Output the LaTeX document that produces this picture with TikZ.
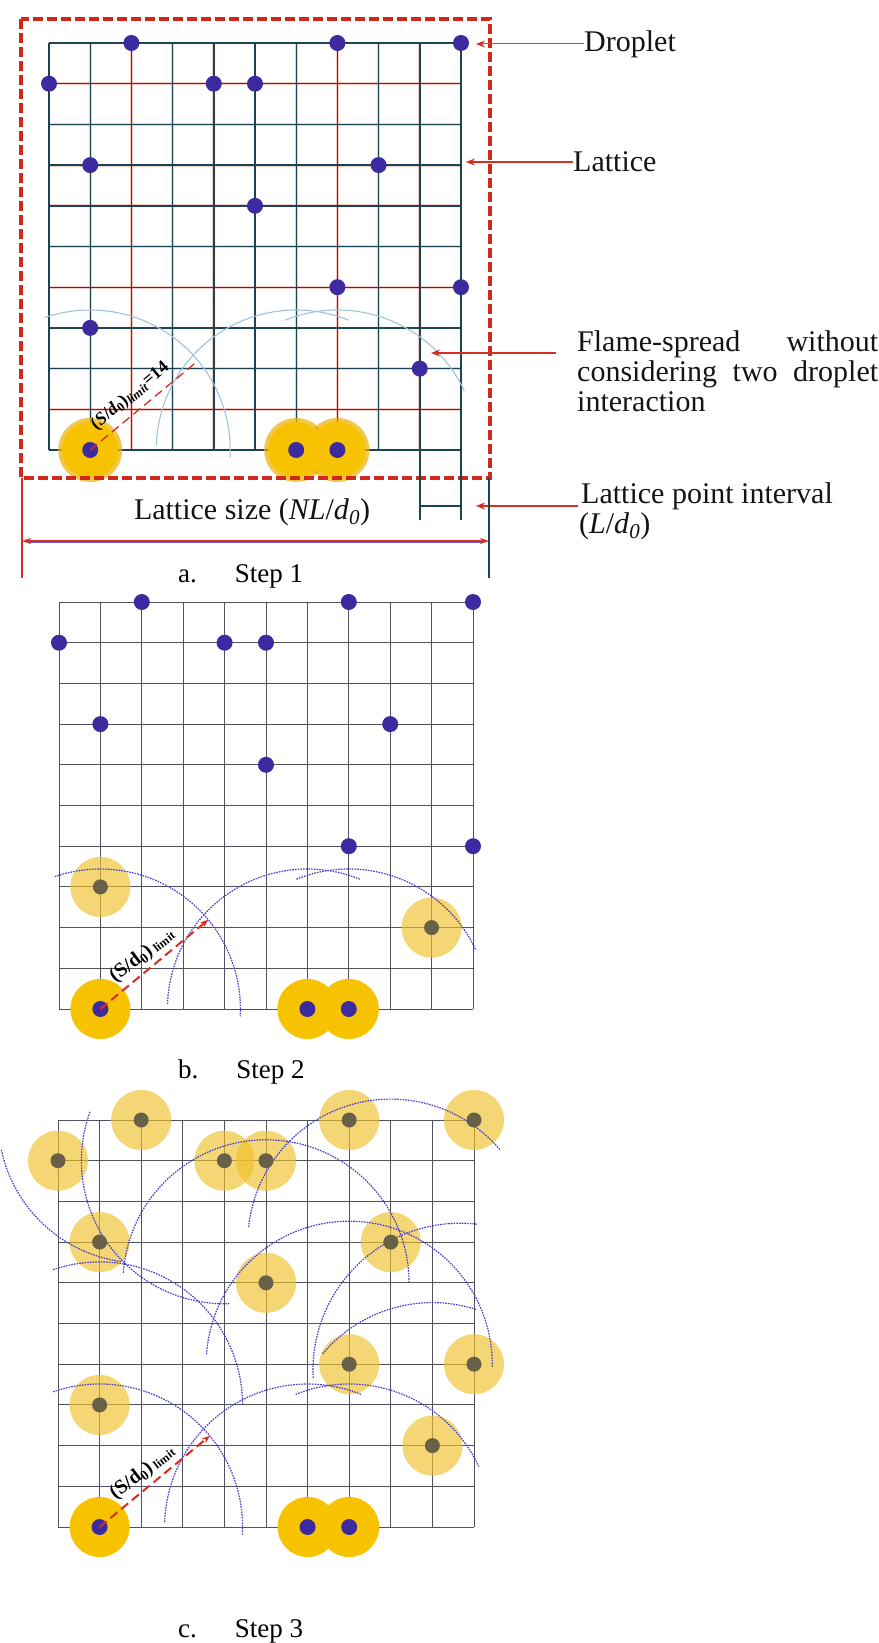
\documentclass[tikz,border=0pt]{standalone}
\usepackage{fontspec}
\setmainfont{Liberation Serif}
\usetikzlibrary{calc,arrows.meta}
\definecolor{bluedot}{RGB}{60,42,160}
\definecolor{graydot}{RGB}{105,96,72}
\definecolor{stronggold}{RGB}{247,194,0}
\definecolor{edgegold}{RGB}{236,176,0}
\definecolor{lightgold}{RGB}{239,193,42}
\definecolor{arcblue}{RGB}{70,62,205}
\definecolor{gridgray}{RGB}{78,82,92}
\definecolor{gridteal}{RGB}{28,68,84}
\definecolor{fringered}{RGB}{230,90,70}
\definecolor{dashred}{RGB}{210,40,28}
\definecolor{arrowred}{RGB}{215,45,35}
\definecolor{paleblue}{RGB}{160,195,222}
\definecolor{dimblue}{RGB}{110,90,200}
\def\droplist{2/0,7/0,10/0,0/1,4/1,5/1,1/3,8/3,5/4,7/6,10/6,1/7,9/8,1/10,6/10,7/10}
\begin{document}
\begin{tikzpicture}[x=1pt,y=-1pt,
  lab/.style={font=\fontsize{30}{30}\selectfont, inner sep=0pt, text=black!92},
  steplab/.style={font=\fontsize{27}{27}\selectfont, inner sep=0pt, anchor=west},
  gridA/.style={draw=gridteal, line width=1.4pt},
  fringeA/.style={draw=fringered, line width=2.8pt, opacity=0.3},
  gridB/.style={draw=gridgray, line width=0.9pt},
  arcA/.style={draw=paleblue, line width=1.1pt},
  arcB/.style={draw=arcblue, line width=1.2pt, dash pattern=on 1.6pt off 1.1pt},
  bdot/.style={fill=bluedot},
  gdot/.style={fill=graydot},
  shalo/.style={fill=stronggold},
  lhalo/.style={fill=lightgold, fill opacity=0.65},
  redarr/.style={draw=arrowred, line width=2pt, -{Stealth[length=9pt,width=7pt]}},
  limarrow/.style={draw=arrowred, line width=2pt, dash pattern=on 9pt off 5pt, -{Stealth[length=8pt,width=6pt]}},
]
\useasboundingbox (0,0) rectangle (878,1643);
\fill[white] (0,0) rectangle (878,1643);

% ================= panel a =================
\begin{scope}[shift={(49pt,-43pt)},x=41.2pt,y=-40.7pt]
  \foreach \i in {0,...,10}{
    \draw[fringeA] (\i,0) -- (\i,10);
    \draw[fringeA] (0,\i) -- (10,\i);
  }
  \foreach \i in {0,...,10}{
    \draw[gridA] (\i,0) -- (\i,10);
    \draw[gridA] (0,\i) -- (10,\i);
  }
  \foreach \i/\j in \droplist { \coordinate (a-\i-\j) at (\i,\j); }
  \coordinate (a-9-10) at (9,10);
  \coordinate (a-10-10) at (10,10);
\end{scope}
\foreach \i in {1,6,7}{ \fill[edgegold, opacity=0.7] (a-\i-10) circle[radius=32pt]; }
\foreach \i in {1,6,7}{ \fill[shalo] (a-\i-10) circle[radius=28pt]; }
\draw[arcA] ($(a-1-10)+(109:140pt)$) arc[start angle=109,end angle=-3,radius=140pt];
\draw[arcA] ($(a-6-10)+(178:140pt)$) arc[start angle=178,end angle=68,radius=140pt];
\draw[arcA] ($(a-7-10)+(112:140pt)$) arc[start angle=112,end angle=25,radius=140pt];
\foreach \i/\j in \droplist { \fill[bdot] (a-\i-\j) circle[radius=8pt]; }
\coordinate (aTip) at ($(a-1-10)+(39.6:140pt)$);
\draw[draw=arrowred, line width=1.3pt, dash pattern=on 9pt off 5pt] (a-1-10) -- (aTip);
\node[rotate=40, inner sep=0pt, font=\fontsize{18}{18}\selectfont\bfseries] (aLim) at ($(a-1-10)+(40pt,54pt)$)
  {(\textit{S}/\textit{d}\textsubscript{0})\textsubscript{\textit{limit}}=14};
\draw[draw=dashred, line width=3.5pt, dash pattern=on 10pt off 4pt] (21,19) rectangle (490,478);

% lattice interval marks
\coordinate (v9) at ($(a-9-10)+(0,56)$);
\coordinate (v10) at ($(a-10-10)+(0,56)$);
\draw[gridA] (a-9-10) -- ($(a-9-10)+(0,70)$);
\draw[gridA] (a-10-10) -- ($(a-10-10)+(0,70)$);
\draw[draw=gridteal, line width=1.3pt] (v9) -- (v10);

% labels of panel a
\node[lab, anchor=west] (lDrop) at (584,44) {Droplet};
\coordinate (tDrop) at (476,44);
\draw[line width=1pt, draw=dimblue, -{Stealth[length=9pt,width=7pt,color=arrowred]}] (lDrop.west) -- (tDrop);
\node[lab, anchor=west] (lLat) at (573,162) {Lattice};
\coordinate (tLat) at (466,162);
\draw[redarr] (lLat.west) -- (tLat);
\node[lab, anchor=north west, align=left] (lFlame) at (577,330)
  {\makebox[301pt][s]{Flame-spread without}\\\makebox[301pt][s]{considering two droplet}\\interaction};
\coordinate (sFlame) at (556,353);
\coordinate (tFlame) at (431,353);
\draw[redarr] (sFlame) -- (tFlame);
\node[lab, anchor=west] (lLpi) at (581,496) {Lattice point interval};
\node[lab, anchor=west] (lLd) at (579,526) {(\textit{L}/\textit{d}\textsubscript{\textit{0}})};
\coordinate (sLpi) at (578,506);
\coordinate (tLpi) at (476,506);
\draw[redarr] (sLpi) -- (tLpi);

% lattice size dimension
\coordinate (dimL) at (22,541);
\coordinate (dimR) at (489,541);
\draw[draw=dimblue, line width=0.8pt] ($(dimL)+(6,1.8)$) -- ($(dimR)+(-6,1.8)$);
\draw[draw=arrowred, line width=1.2pt, {Stealth[length=9pt,width=6pt]}-{Stealth[length=9pt,width=6pt]}] (dimL) -- (dimR);
\draw[draw=arrowred, line width=1.6pt] (22,478) -- (22,578);
\draw[draw=gridteal, line width=1.4pt] (489,478) -- (489,578);
\node[lab] (lSize) at (252,512) {Lattice size (\textit{NL}/\textit{d}\textsubscript{\textit{0}})};
\node[steplab] (sA) at (178,576) {a.\hspace{38pt}Step 1};

% ================= panel b =================
\begin{scope}[shift={(59pt,-602pt)},x=41.4pt,y=-40.7pt]
  \foreach \i in {0,...,10}{
    \draw[gridB] (\i,0) -- (\i,10);
    \draw[gridB] (0,\i) -- (10,\i);
  }
  \foreach \i/\j in \droplist { \coordinate (b-\i-\j) at (\i,\j); }
\end{scope}
\foreach \i/\j in {1/7,9/8}{ \fill[lhalo] (b-\i-\j) circle[radius=30pt]; }
\foreach \i in {1,6,7}{ \fill[shalo] (b-\i-10) circle[radius=30pt]; }
\draw[arcB] ($(b-1-10)+(109:140pt)$) arc[start angle=109,end angle=-3,radius=140pt];
\draw[arcB] ($(b-6-10)+(178:140pt)$) arc[start angle=178,end angle=68,radius=140pt];
\draw[arcB] ($(b-7-10)+(112:140pt)$) arc[start angle=112,end angle=25,radius=140pt];
\foreach \i/\j in {2/0,7/0,10/0,0/1,4/1,5/1,1/3,8/3,5/4,7/6,10/6,1/10,6/10,7/10}{ \fill[bdot] (b-\i-\j) circle[radius=8pt]; }
\foreach \i/\j in {1/7,9/8}{ \fill[gdot] (b-\i-\j) circle[radius=7.5pt]; }
\coordinate (bTip) at ($(b-1-10)+(39.6:140pt)$);
\draw[limarrow] (b-1-10) -- (bTip);
\node[rotate=37.5, inner sep=0pt, font=\bfseries] (bLim) at ($(b-1-10)+(42pt,53pt)$)
  {\fontsize{20}{20}\selectfont (S/d\textsubscript{0})\,\raisebox{-1pt}{\fontsize{12}{12}\selectfont limit}};
\node[steplab] (sB) at (178,1072) {b.\hspace{38pt}Step 2};

% ================= panel c =================
\begin{scope}[shift={(58pt,-1120pt)},x=41.6pt,y=-40.7pt]
  \foreach \i in {0,...,10}{
    \draw[gridB] (\i,0) -- (\i,10);
    \draw[gridB] (0,\i) -- (10,\i);
  }
  \foreach \i/\j in \droplist { \coordinate (c-\i-\j) at (\i,\j); }
\end{scope}
\foreach \i/\j in {2/0,7/0,10/0,0/1,4/1,5/1,1/3,8/3,5/4,7/6,10/6,1/7,9/8}{ \fill[lhalo] (c-\i-\j) circle[radius=30pt]; }
\foreach \i in {1,6,7}{ \fill[shalo] (c-\i-10) circle[radius=30pt]; }
\draw[arcB] ($(c-1-10)+(109:143pt)$) arc[start angle=109,end angle=-3,radius=143pt];
\draw[arcB] ($(c-6-10)+(178:143pt)$) arc[start angle=178,end angle=68,radius=143pt];
\draw[arcB] ($(c-7-10)+(112:143pt)$) arc[start angle=112,end angle=25,radius=143pt];
\draw[arcB] ($(c-1-7)+(109:143pt)$) arc[start angle=109,end angle=0,radius=143pt];
\draw[arcB] ($(c-9-8)+(140:143pt)$) arc[start angle=140,end angle=72,radius=143pt];
\coordinate (c106) at ($(c-10-6)+(-14pt,-6pt)$);
\draw[arcB] ($(c106)+(183:147pt)$) arc[start angle=183,end angle=83,radius=147pt];
\draw[arcB] ($(c-7-6)+(176:143pt)$) arc[start angle=176,end angle=-1,radius=143pt];
\draw[arcB] ($(c-5-4)+(176:143pt)$) arc[start angle=176,end angle=0,radius=143pt];
\draw[arcB] ($(c-8-3)+(174:143pt)$) arc[start angle=174,end angle=40,radius=143pt];
\draw[arcB] ($(c-4-1)+(160:143pt)$) arc[start angle=160,end angle=272,radius=143pt];
\draw[arcB] ($(c-2-0)+(192:143pt)$) arc[start angle=192,end angle=262,radius=143pt];
\foreach \i/\j in {2/0,7/0,10/0,0/1,4/1,5/1,1/3,8/3,5/4,7/6,10/6,1/7,9/8}{ \fill[gdot] (c-\i-\j) circle[radius=7.5pt]; }
\foreach \i in {1,6,7}{ \fill[bdot] (c-\i-10) circle[radius=8pt]; }
\coordinate (cTip) at ($(c-1-10)+(39.6:143pt)$);
\draw[limarrow] (c-1-10) -- (cTip);
\node[rotate=37.5, inner sep=0pt, font=\bfseries] (cLim) at ($(c-1-10)+(43pt,54pt)$)
  {\fontsize{20}{20}\selectfont (S/d\textsubscript{0})\,\raisebox{-1pt}{\fontsize{12}{12}\selectfont limit}};
\node[steplab] (sC) at (178,1631) {c.\hspace{38pt}Step 3};
\end{tikzpicture}
\end{document}
